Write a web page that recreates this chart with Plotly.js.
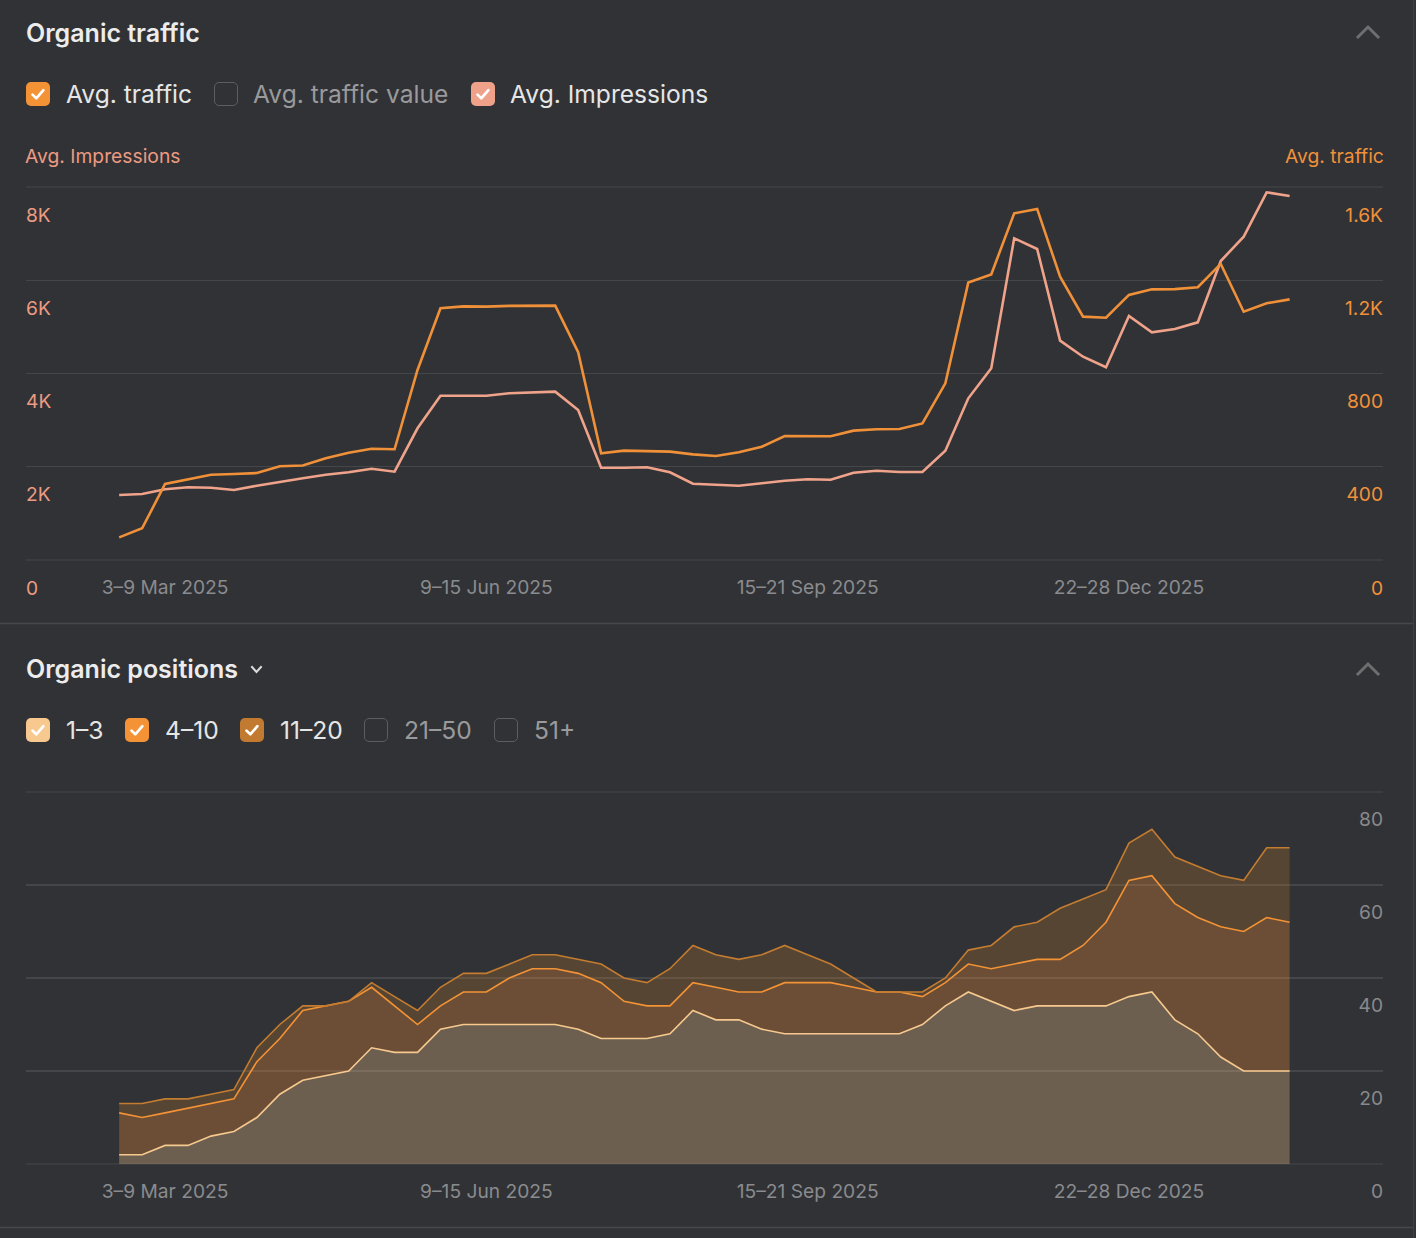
<!DOCTYPE html>
<html><head><meta charset="utf-8">
<script src="https://cdn.plot.ly/plotly-3.0.1.min.js"></script>
<style>
html,body{margin:0;padding:0;background:#313235;}
#wrap{position:relative;width:1416px;height:1238px;overflow:hidden;font-family:Inter,"Noto Sans",sans-serif;background:#313235;}
#chart{position:absolute;left:0;top:0;width:1416px;height:1238px;}
.t{position:absolute;white-space:nowrap;line-height:30px;height:30px;}
.h{font-size:25px;font-weight:600;color:#ececec;}
.lg{font-size:24.6px;color:#e6e6e6;}
.off{color:#9a9a9c;}
.cb{position:absolute;width:24px;height:24px;border-radius:5px;box-sizing:border-box;}
.cb svg{position:absolute;left:0;top:0;}
.cbo{border:1.5px solid #5c5d60;}
svg.ic{position:absolute;overflow:visible;}
</style></head>
<body>
<div id="wrap">
<div id="chart"></div>
</div>
<script>
// ---------- data ----------
const weeks = [
 "17–23 Feb 2025","24 Feb–2 Mar 2025","3–9 Mar 2025","10–16 Mar 2025","17–23 Mar 2025","24–30 Mar 2025",
 "31 Mar–6 Apr 2025","7–13 Apr 2025","14–20 Apr 2025","21–27 Apr 2025","28 Apr–4 May 2025","5–11 May 2025",
 "12–18 May 2025","19–25 May 2025","26 May–1 Jun 2025","2–8 Jun 2025","9–15 Jun 2025","16–22 Jun 2025",
 "23–29 Jun 2025","30 Jun–6 Jul 2025","7–13 Jul 2025","14–20 Jul 2025","21–27 Jul 2025","28 Jul–3 Aug 2025",
 "4–10 Aug 2025","11–17 Aug 2025","18–24 Aug 2025","25–31 Aug 2025","1–7 Sep 2025","8–14 Sep 2025",
 "15–21 Sep 2025","22–28 Sep 2025","29 Sep–5 Oct 2025","6–12 Oct 2025","13–19 Oct 2025","20–26 Oct 2025",
 "27 Oct–2 Nov 2025","3–9 Nov 2025","10–16 Nov 2025","17–23 Nov 2025","24–30 Nov 2025","1–7 Dec 2025",
 "8–14 Dec 2025","15–21 Dec 2025","22–28 Dec 2025","29 Dec 2025–4 Jan 2026","5–11 Jan 2026","12–18 Jan 2026",
 "19–25 Jan 2026","26 Jan–1 Feb 2026","2–8 Feb 2026","9–15 Feb 2026"
];
const tickWeeks = ["3–9 Mar 2025","9–15 Jun 2025","15–21 Sep 2025","22–28 Dec 2025"];

const avgImpressions = [1394,1416,1516,1559,1551,1501,1594,1679,1752,1830,1881,1958,1894,2825,3524,3524,3524,3575,3588,3610,
 3217,1980,1980,1988,1881,1636,1615,1594,1645,1701,1731,1722,1872,1915,1887,1887,2344,3468,4112,6900,
 6670,4704,4360,4133,5233,4884,4955,5098,6413,6934,7886,7807];
const avgTraffic = [97,136,326,346,366,369,373,402,405,436,460,477,475,815,1080,1088,1087,1090,1090,1091,
 891,458,469,468,465,453,446,462,486,532,532,531,555,561,562,586,758,1190,1225,1487,
 1506,1215,1044,1039,1137,1161,1162,1170,1270,1065,1101,1118];

const pos1to3 = [2,2,4,4,6,7,10,15,18,19,20,25,24,24,29,30,30,30,30,30,29,27,27,27,28,33,31,31,29,28,28,28,28,28,28,30,
 34,37,35,33,34,34,34,34,36,37,31,28,23,20,20,20];
const pos4to10 = [9,8,7,8,7,7,12,12,15,15,15,13,10,6,5,7,7,10,12,12,12,12,8,7,6,6,7,6,8,11,11,11,10,9,9,6,
 5,6,7,10,10,10,13,18,25,25,25,25,28,30,33,32];
const pos11to20 = [2,3,3,2,2,2,3,3,1,0,0,1,2,3,4,4,4,3,3,3,3,4,5,5,8,8,7,7,8,8,6,4,2,0,0,1,
 1,3,5,8,8,11,10,7,8,10,10,11,11,11,15,16];

const impTickVals = [0,2000,4000,6000,8000];
const impTickText = ["0","2K","4K","6K","8K"];
const trafTickVals = [0,400,800,1200,1600];
const trafTickText = ["0","400","800","1.2K","1.6K"];
const posTickVals = [0,20,40,60,80];
const posTickText = ["0","20","40","60","80"];

// ---------- page geometry helpers ----------
const W = 1416, H = 1238;
const px = v => v / W;
const py = v => 1 - v / H;
const FONT = 'Inter, "Noto Sans", sans-serif';
const GRID = '#45464a';

// ---------- html header pieces ----------
const wrap = document.getElementById('wrap');
function txt(s, x, cy, cls, extra) {
  const d = document.createElement('div');
  d.className = 't ' + cls; d.textContent = s;
  d.style.left = x + 'px'; d.style.top = (cy - 15) + 'px';
  if (extra) Object.assign(d.style, extra);
  wrap.appendChild(d); return d;
}
function box(x, cy, color) {
  const d = document.createElement('div');
  d.className = 'cb' + (color ? '' : ' cbo');
  d.style.left = x + 'px'; d.style.top = (cy - 12) + 'px';
  if (color) {
    d.style.background = color;
    d.innerHTML = '<svg width="24" height="24" viewBox="0 0 24 24"><path d="M6.5 12.6 L10.3 16.3 L17.4 8.2" fill="none" stroke="#fff" stroke-width="2.7" stroke-linecap="round" stroke-linejoin="round"/></svg>';
  }
  wrap.appendChild(d);
}
function chevron(cx, cy, up, color, w, h, sw) {
  const s = document.createElementNS('http://www.w3.org/2000/svg', 'svg');
  s.setAttribute('class', 'ic');
  s.setAttribute('width', w); s.setAttribute('height', h);
  s.style.left = (cx - w / 2) + 'px'; s.style.top = (cy - h / 2) + 'px';
  const p = document.createElementNS('http://www.w3.org/2000/svg', 'polyline');
  p.setAttribute('points', up ? `0,${h} ${w/2},0 ${w},${h}` : `0,0 ${w/2},${h} ${w},0`);
  p.setAttribute('fill', 'none'); p.setAttribute('stroke', color);
  p.setAttribute('stroke-width', sw); p.setAttribute('stroke-linecap', 'square');
  s.appendChild(p); wrap.appendChild(s);
}

txt('Organic traffic', 26, 32.5, 'h');
chevron(1367.5, 31.5, true, '#6e6e71', 20, 10, 3);
box(26, 94, '#f39336'); txt('Avg. traffic', 66, 93.5, 'lg');
box(214, 94, null); txt('Avg. traffic value', 253, 93.5, 'lg off');
box(471, 94, '#f0a18a'); txt('Avg. Impressions', 510, 93.5, 'lg');

txt('Organic positions', 26, 668.5, 'h');
chevron(256, 669.5, false, '#dcdcdc', 9, 5, 2);
chevron(1367.5, 668.5, true, '#6e6e71', 20, 10, 3);
box(26, 730, '#f7c98f'); txt('1–3', 66, 729.5, 'lg');
box(125, 730, '#f39336'); txt('4–10', 165, 729.5, 'lg');
box(240, 730, '#c17a2f'); txt('11–20', 280, 729.5, 'lg');
box(364, 730, null); txt('21–50', 404, 729.5, 'lg off');
box(494, 730, null); txt('51+', 534, 729.5, 'lg off');

// ---------- plotly ----------
const traces = [
  { x: weeks, y: avgImpressions, type: 'scatter', mode: 'lines', xaxis: 'x', yaxis: 'y',
    line: { color: '#f0a38b', width: 2.6 }, name: 'Avg. Impressions' },
  { x: weeks, y: avgTraffic, type: 'scatter', mode: 'lines', xaxis: 'x', yaxis: 'y3',
    line: { color: '#f0913a', width: 2.6 }, name: 'Avg. traffic' },
  { x: weeks, y: pos1to3, type: 'scatter', mode: 'lines', xaxis: 'x2', yaxis: 'y2', stackgroup: 'pos',
    line: { color: '#f7c98f', width: 1.6 }, fillcolor: 'rgba(247,201,143,0.30)', name: '1–3' },
  { x: weeks, y: pos4to10, type: 'scatter', mode: 'lines', xaxis: 'x2', yaxis: 'y2', stackgroup: 'pos',
    line: { color: '#f39336', width: 1.6 }, fillcolor: 'rgba(243,147,54,0.30)', name: '4–10' },
  { x: weeks, y: pos11to20, type: 'scatter', mode: 'lines', xaxis: 'x2', yaxis: 'y2', stackgroup: 'pos',
    line: { color: '#c47c30', width: 1.6 }, fillcolor: 'rgba(193,122,47,0.27)', name: '11–20' }
];

const xRange = [-4.06, 55.07];
const xCommon = {
  domain: [px(26), px(1383)], type: 'category', range: xRange, tickmode: 'array',
  tickvals: tickWeeks, ticktext: tickWeeks, showgrid: false, zeroline: false, showline: false,
  ticks: '', ticklabelstandoff: 14, tickfont: { family: FONT, size: 19.2, color: '#8a8b8e' }, fixedrange: true
};
const yCommon = {
  ticklabelposition: 'inside', ticklabelshift: 28, ticklabeloverflow: 'allow', ticklabelstandoff: -3,
  zeroline: false, showline: false, ticks: '', fixedrange: true
};

function edgeLines(xref, yref) {
  return [0, 1].map(v => ({ type: 'line', xref: xref + ' domain', yref: yref + ' domain', x0: 0, x1: 1, y0: v, y1: v,
    line: { color: GRID, width: 1.2 }, layer: 'below' }));
}

const layout = {
  width: W, height: H, margin: { l: 0, r: 0, t: 0, b: 0 },
  paper_bgcolor: 'rgba(0,0,0,0)', plot_bgcolor: 'rgba(0,0,0,0)',
  showlegend: false, hovermode: false,
  font: { family: FONT },
  xaxis: Object.assign({}, xCommon, { anchor: 'y' }),
  xaxis2: Object.assign({}, xCommon, { anchor: 'y2' }),
  yaxis: Object.assign({}, yCommon, {
    domain: [py(560), py(187)], range: [0, 8000], anchor: 'x', side: 'left',
    tickmode: 'array', tickvals: impTickVals, ticktext: impTickText,
    showgrid: true, gridcolor: GRID, gridwidth: 1.2,
    tickfont: { family: FONT, size: 19.2, color: '#ec9b82' }
  }),
  yaxis3: Object.assign({}, yCommon, {
    overlaying: 'y', anchor: 'x', side: 'right', range: [0, 1600],
    tickmode: 'array', tickvals: trafTickVals, ticktext: trafTickText, showgrid: false,
    tickfont: { family: FONT, size: 19.2, color: '#f0913a' }
  }),
  yaxis2: Object.assign({}, yCommon, {
    domain: [py(1164), py(792)], range: [0, 80], anchor: 'x2', side: 'right', ticklabelshift: 27,
    tickmode: 'array', tickvals: posTickVals, ticktext: posTickText,
    showgrid: true, gridcolor: GRID, gridwidth: 1.2,
    tickfont: { family: FONT, size: 19.2, color: '#88898c' }
  }),
  annotations: [
    { text: 'Avg. Impressions', xref: 'paper', yref: 'paper', x: px(26), y: py(156), xanchor: 'left', yanchor: 'middle',
      xshift: -3, showarrow: false, font: { family: FONT, size: 19.3, color: '#ec9b82' } },
    { text: 'Avg. traffic', xref: 'paper', yref: 'paper', x: px(1383), y: py(156), xanchor: 'right', yanchor: 'middle',
      xshift: 3, showarrow: false, font: { family: FONT, size: 19.3, color: '#f0913a' } }
  ],
  shapes: [
    ...edgeLines('x', 'y'),
    ...edgeLines('x2', 'y2'),
    { type: 'line', xref: 'paper', yref: 'paper', x0: 0, x1: px(1413), y0: py(623.5), y1: py(623.5), line: { color: '#47484b', width: 1.5 } },
    { type: 'line', xref: 'paper', yref: 'paper', x0: 0, x1: px(1413), y0: py(1227.5), y1: py(1227.5), line: { color: '#47484b', width: 1.5 } },
    { type: 'line', xref: 'paper', yref: 'paper', x0: px(1413.5), x1: px(1413.5), y0: 0, y1: 1, line: { color: '#3e3f42', width: 1.5 } }
  ]
};

Plotly.newPlot('chart', traces, layout, { staticPlot: true, displayModeBar: false });
</script>
</body></html>
